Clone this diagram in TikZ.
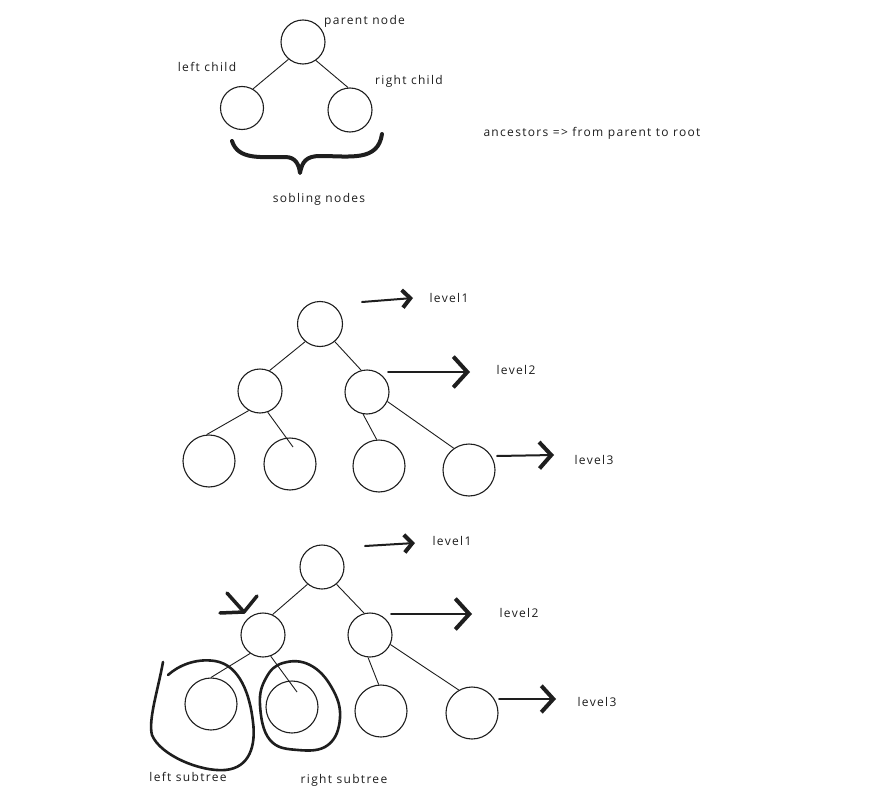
\documentclass[tikz,border=0pt]{standalone}
\usepackage{fontspec}
\setmainfont{Open Sans}[LetterSpace=11]
\usetikzlibrary{arrows.meta}
\definecolor{ink}{HTML}{1E1E1E}
\tikzset{
  tnode/.style={circle, draw=ink, line width=1.1pt, inner sep=0pt},
  small/.style={tnode, minimum size=44pt},
  big/.style={tnode, minimum size=52pt},
  edge/.style={draw=ink, line width=0.9pt},
  lbl/.style={text=ink, font=\fontsize{12}{14}\selectfont, inner sep=0pt},
  lvlarrow/.style={draw=ink, line width=2pt, line cap=round,
     -{Straight Barb[length=#1, width=2.2*#1, line width=4pt]}},
  thickstroke/.style={draw=ink, line width=3pt, line cap=round, line join=round},
}
\begin{document}
\begin{tikzpicture}[x=1pt,y=-1pt]
\useasboundingbox[fill=white] (0,0) rectangle (884,808);

% ---------- top tree ----------
\node[small] (p) at (303,42) {};
\node[small, minimum size=43pt] (lc) at (242,108) {};
\node[small] (rc) at (350,110) {};
\draw[edge] (p.-130) -- (lc.60);
\draw[edge] (p.-55) -- (rc.95);
\node[lbl, anchor=west] (tp) at (324,21) {parent node};
\node[lbl] (tl) at (207,67) {left child};
\node[lbl] (tr) at (409,81) {right child};
\draw[thickstroke, line width=4pt] (232,141) .. controls (238,160) and (260,157) .. (285,157)
   .. controls (296,157) and (299,165) .. (300,173)
   .. controls (302,162) and (306,156) .. (320,156)
   .. controls (350,156) and (378,162) .. (382,134);
\node[lbl] (sib) at (319,199) {sobling nodes};
\node[lbl] (anc) at (592,133) {ancestors => from parent to root};

% ---------- middle tree ----------
\node[small, minimum size=45pt] (m1) at (320,324) {};
\node[small] (m2l) at (260,391) {};
\node[small] (m2r) at (367,392) {};
\node[big] (m3a) at (209,461) {};
\node[big] (m3b) at (290,464) {};
\node[big] (m3c) at (379,466) {};
\node[big] (m3d) at (469,470) {};
\coordinate (m3bin) at (293,447);
\draw[edge] (m1.-130) -- (m2l.65);
\draw[edge] (m1.-50) -- (m2r.105);
\draw[edge] (m2l.-120) -- (m3a.95);
\draw[edge] (m2l.-70) -- (m3bin);
\draw[edge] (m2r.-100) -- (m3c.95);
\draw[edge] (m2r.-25) -- (m3d.125);
\coordinate (m1s) at (362,302);
\coordinate (m1e) at (413,298);
\coordinate (m2s) at (388,372);
\coordinate (m2e) at (470,372);
\coordinate (m3s) at (497,456);
\coordinate (m3e) at (554,455);
\draw[lvlarrow=8pt] (m1s) -- (m1e);
\draw[lvlarrow=14pt] (m2s) -- (m2e);
\draw[lvlarrow=12pt] (m3s) -- (m3e);
\node[lbl] (ml1) at (449,298) {level1};
\node[lbl] (ml2) at (516,370) {level2};
\node[lbl] (ml3) at (594,460) {level3};

% ---------- bottom tree ----------
\node[small] (b1) at (322,567) {};
\node[small] (b2l) at (263,635) {};
\node[small] (b2r) at (370,635) {};
\node[big] (b3a) at (211,704) {};
\node[big] (b3b) at (292,707) {};
\node[big] (b3c) at (381,711) {};
\node[big] (b3d) at (472,713) {};
\coordinate (b3bin) at (297,692);
\draw[edge] (b1.-130) -- (b2l.65);
\draw[edge] (b1.-50) -- (b2r.105);
\draw[edge] (b2l.-125) -- (b3a.90);
\draw[edge] (b2l.-70) -- (b3bin);
\draw[edge] (b2r.-95) -- (b3c.95);
\draw[edge] (b2r.-25) -- (b3d.120);
\coordinate (b1s) at (365,546);
\coordinate (b1e) at (415,543);
\coordinate (b2s) at (391,614);
\coordinate (b2e) at (472,614);
\coordinate (b3s) at (499,699);
\coordinate (b3e) at (556,699);
\draw[lvlarrow=8pt] (b1s) -- (b1e);
\draw[lvlarrow=14pt] (b2s) -- (b2e);
\draw[lvlarrow=12pt] (b3s) -- (b3e);
\node[lbl] (bl1) at (452,541) {level1};
\node[lbl] (bl2) at (519,613) {level2};
\node[lbl] (bl3) at (597,702) {level3};

% check-mark arrowhead pointing at b2l
\coordinate (ck) at (244,612);
\draw[thickstroke, line width=3.5pt] (227,593) -- (ck) -- (257,596);
\draw[thickstroke, line width=3.5pt] (220,613) -- (ck);

% left subtree loop
\draw[thickstroke, line width=2.6pt] (163,662) .. controls (158,690) and (148,720) .. (152,735)
  .. controls (160,755) and (200,772) .. (225,770)
  .. controls (250,768) and (256,745) .. (253,722)
  .. controls (250,695) and (240,665) .. (215,661)
  .. controls (195,658) and (178,666) .. (168,675);
\node[lbl] (lsub) at (188,777) {left subtree};

% right subtree loop
\draw[thickstroke, line width=2.6pt] plot[smooth cycle, tension=0.7] coordinates
  {(283,663) (310,665) (332,688) (340,718) (328,745) (298,750) (270,740) (260,705) (266,678)};
\node[lbl] (rsub) at (344,780) {right subtree};

\end{tikzpicture}
\end{document}
